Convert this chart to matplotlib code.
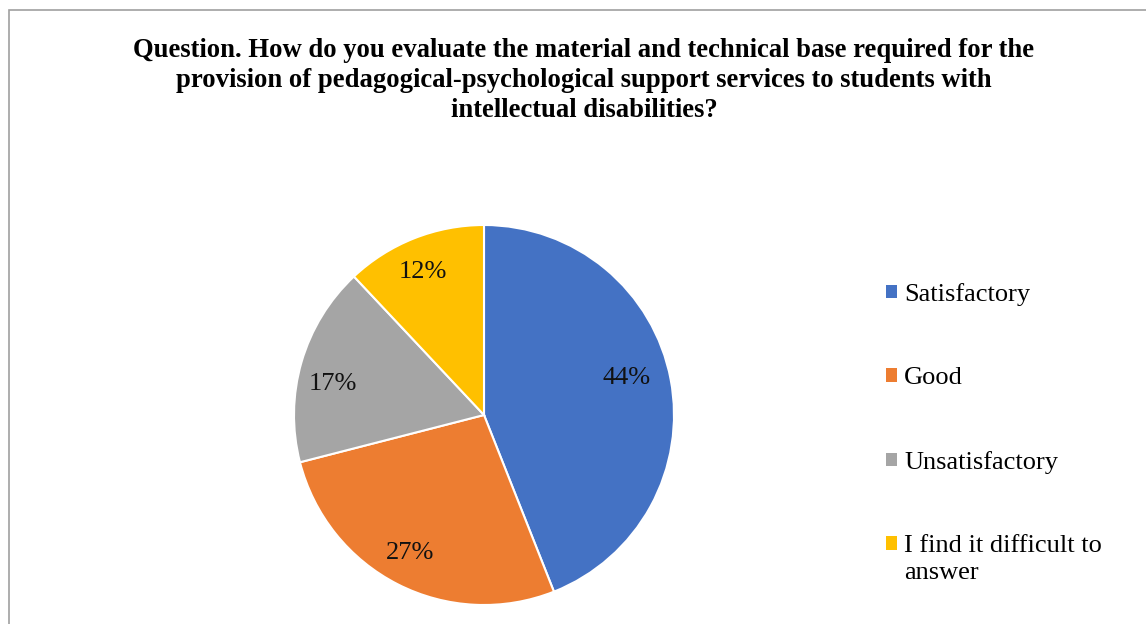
import matplotlib
matplotlib.use('Agg')
import matplotlib.pyplot as plt
from matplotlib.patches import Patch, Rectangle

labels = ['Satisfactory', 'Good', 'Unsatisfactory', 'I find it difficult to']
label_tail = 'answer'  # second line of the last legend entry
values = [44, 27, 17, 12]
colors = ['#4472C4', '#ED7D31', '#A5A5A5', '#FFC000']
# small per-label nudges (Excel "best fit" placement), in pie radius units
nudge = [(-0.046, 0.045), (-0.021, -0.002), (-0.017, -0.063), (-0.026, -0.003)]

title = ('Question. How do you evaluate the material and technical base required for the\n'
         'provision of pedagogical-psychological support services to students with\n'
         'intellectual disabilities?')

plt.rcParams['font.family'] = ['Liberation Serif', 'DejaVu Serif']

W, H = 1146, 624
fig = plt.figure(figsize=(W / 100, H / 100), dpi=100)

# chart frame (only left/top edges are inside the picture)
fig.patches.append(Rectangle((8.5 / W, -0.1), 1.2, 1.1 - 9.5 / H, transform=fig.transFigure,
                             fill=False, edgecolor='#A0A0A0', lw=1.2))

cx, cy, r = 484, 415, 190
ax = fig.add_axes([(cx - r) / W, 1 - (cy + r) / H, 2 * r / W, 2 * r / H])
wedges, texts, autotexts = ax.pie(values, colors=colors, startangle=90, counterclock=False,
                                  radius=1, autopct='%1.0f%%', pctdistance=0.81,
                                  wedgeprops=dict(edgecolor='white', linewidth=1.5),
                                  textprops=dict(fontsize=19, color='#111111'))
for t, (dx, dy) in zip(autotexts, nudge):
    x, y = t.get_position()
    t.set_position((x + dx, y + dy))
ax.set_xlim(-1, 1)
ax.set_ylim(-1, 1)
ax.set_aspect('equal')

fig.text(584 / W, 1 - 38 / H, title, ha='center', va='top',
         fontsize=19.2, fontweight='bold', linespacing=1.27)

handles = [Patch(facecolor=c, edgecolor='none') for c in colors]
leg = fig.legend(handles, labels, loc='upper left', bbox_to_anchor=(886 / W, 1 - 283 / H),
                 frameon=False, fontsize=19, handlelength=0.42, handleheight=0.42,
                 handletextpad=0.27, labelspacing=2.33, borderpad=0, borderaxespad=0)

fig.canvas.draw()
last = leg.get_texts()[-1]
bb = last.get_window_extent()
fig.text(bb.x0 / W, (bb.y0 - 27) / H, label_tail, ha='left', va='bottom',
         fontsize=19, color=last.get_color())

fig.savefig('out.png', dpi=100)
